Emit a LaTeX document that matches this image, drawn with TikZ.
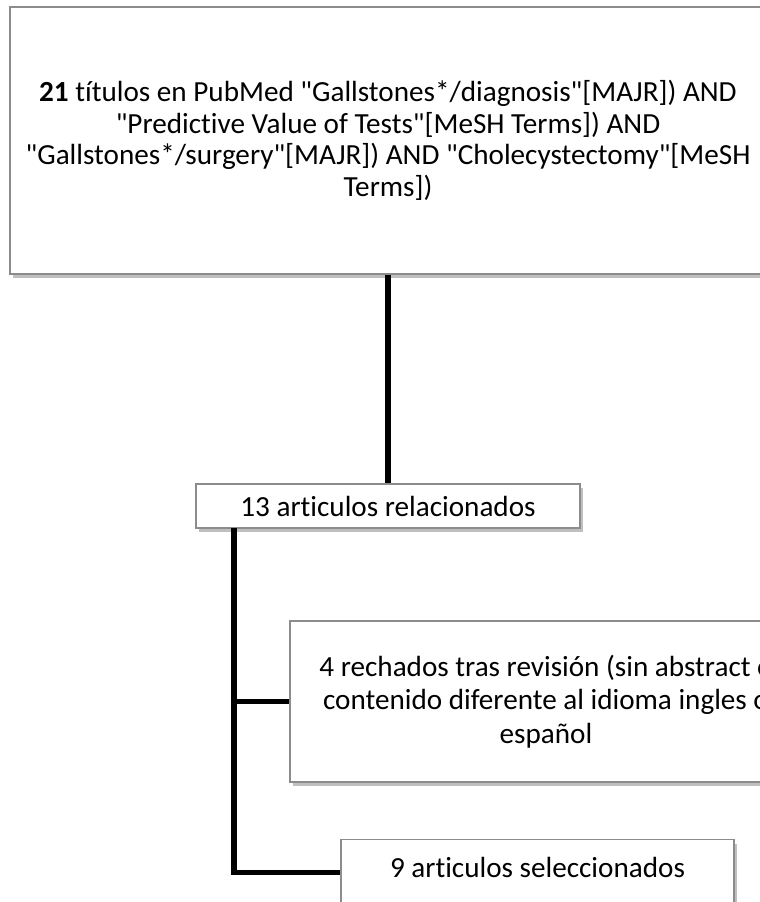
\documentclass[tikz,border=0pt]{standalone}
\usepackage{fontspec}
\setmainfont{Carlito}[Ligatures={NoCommon}]
\usepackage{xcolor}
\usepackage{tikz}
\usetikzlibrary{shadows}
\definecolor{boxgray}{RGB}{140,140,140}
\newcommand{\qt}{\textquotedbl}
\tikzset{box/.style={rectangle,draw=boxgray,line width=0.8pt,fill=white,align=center,inner sep=0pt,
    font=\fontsize{16.6pt}{18pt}\selectfont,
    drop shadow={shadow xshift=1.5pt,shadow yshift=-2.5pt,opacity=0.25,fill=black}},
  link/.style={line width=3pt,black}}

\begin{document}
\begin{tikzpicture}[x=0.02cm,y=-0.02cm]
        \useasboundingbox (0,0) rectangle (760,902);
        \clip (0,0) rectangle (760,902);

        \node[box,minimum width=15.12cm,minimum height=5.34cm] (top)at (388,140.5) {\textbf{21} títulos en PubMed \qt Gallstones*/diagnosis\qt[MAJR]) AND\\ \qt Predictive Value of Tests\qt[MeSH Terms]) AND\\ \qt Gallstones*/surgery\qt[MAJR]) AND \qt Cholecystectomy\qt[MeSH\\ Terms])};
        \node[box,minimum width=7.68cm,minimum height=0.88cm] (rel)at (388,506) {13 articulos relacionados};
        \node[box,minimum width=10.24cm,minimum height=3.22cm,font=\fontsize{16.6pt}{18.9pt}\selectfont] (rech)at (546,701.5) {4 rechados tras revisión (sin abstract o\\ contenido diferente al idioma ingles o\\ español};
        \node[box,anchor=north,minimum width=7.86cm,text height=0.76cm,text depth=1cm] (sel)at (537.5,839) {9 articulos seleccionados};
        \coordinate (trunk) at (234,528);

        \draw [link] (top) to (rel);
        \draw [link] (trunk) |- (rech.west);
        \draw [link] (trunk) |- ([yshift=0.1cm]sel.base west);
    \end{tikzpicture}
\end{document}
